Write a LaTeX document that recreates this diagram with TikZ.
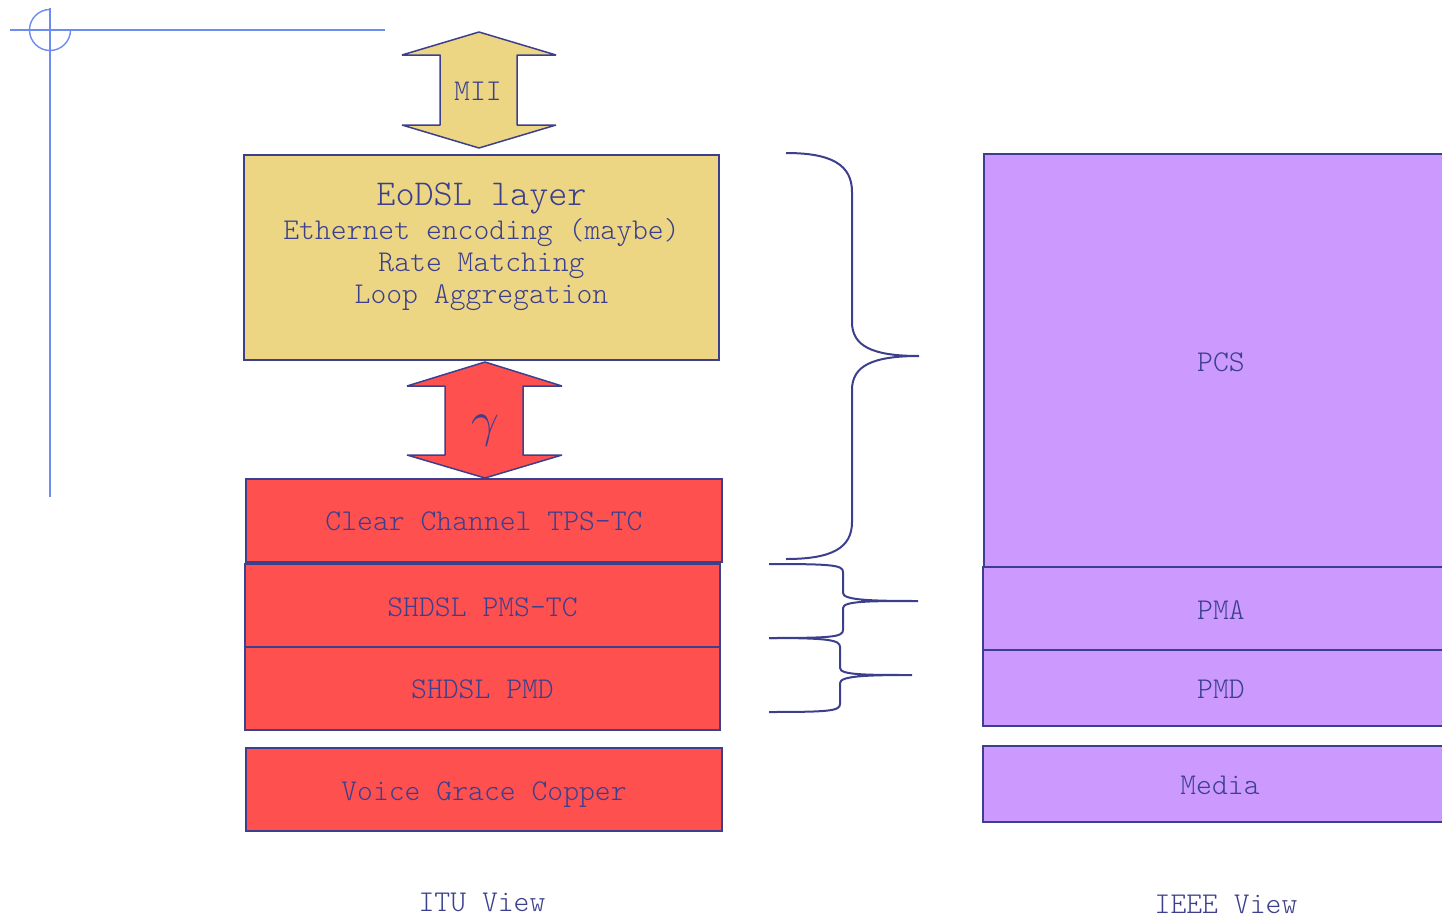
\documentclass[tikz,border=0pt]{standalone}
\usepackage{fontspec}
\setmainfont{Latin Modern Mono Light}
\definecolor{ink}{RGB}{60,64,140}
\definecolor{guide}{RGB}{110,140,240}
\definecolor{sand}{RGB}{236,214,132}
\definecolor{coral}{RGB}{255,80,80}
\definecolor{lilac}{RGB}{204,153,255}
\tikzset{
  layer/.style={draw=ink, line width=0.75pt, inner sep=0pt, rectangle},
  txt/.style={text=ink, inner sep=0pt, anchor=base, font=\fontsize{15.1}{18}\selectfont},
  title/.style={txt, font=\fontsize{18.2}{22}\selectfont},
  arrowshape/.style={draw=ink, line width=0.75pt, line join=bevel},
  brace/.style={draw=ink, line width=1pt},
  guideline/.style={draw=guide, line width=0.7pt}
}
\begin{document}
\begin{tikzpicture}[x=0.5pt,y=-0.5pt]
\useasboundingbox (0,0) rectangle (1442,916);
\clip (0,0) rectangle (1442,916);

% registration mark
\draw[guideline] (10,30) -- (385,30);
\draw[guideline] (50,8) -- (50,497);
\draw[guideline] (50,9.5) arc[start angle=90, end angle=360, radius=10.25pt];

% MII interface arrow
\draw[arrowshape, fill=sand] (479,32) -- (556,55) -- (517,55) -- (517,125) -- (556,125)
  -- (479,148) -- (402,125) -- (440,125) -- (440,55) -- (402,55) -- cycle;
\node[txt] (mii) at (478,100) {MII};

% ITU stack
\node[layer, fill=sand, minimum width=237.5pt, minimum height=102.5pt] (eodsl) at (481.5,257.5) {};
\node[title] (eodslt) at (481.5,205) {EoDSL layer};
\node[txt] (enc) at (481.5,239.3) {Ethernet encoding (maybe)};
\node[txt] (rate) at (481.5,271) {Rate Matching};
\node[txt] (loop) at (481.5,303.3) {Loop Aggregation};

% gamma interface arrow
\draw[arrowshape, fill=coral] (485,362) -- (562,386) -- (523,386) -- (523,455) -- (562,455)
  -- (485,478) -- (407,455) -- (445,455) -- (445,386) -- (407,386) -- cycle;
\node[text=ink, inner sep=0pt, anchor=base, font=\fontsize{24}{28}\selectfont] (gamma) at (485,436) {$\gamma$};

\node[layer, fill=coral, minimum width=238pt, minimum height=41.5pt] (clear) at (484,520.5) {};
\node[txt] at (484,530) {Clear Channel TPS-TC};
\node[layer, fill=coral, minimum width=237.5pt, minimum height=41.5pt] (pmstc) at (482.5,605.5) {};
\node[txt] at (482.5,616) {SHDSL PMS-TC};
\node[layer, fill=coral, minimum width=237.5pt, minimum height=41.5pt] (ituPmd) at (482.5,688.5) {};
\node[txt] at (482.5,698) {SHDSL PMD};
\node[layer, fill=coral, minimum width=238pt, minimum height=41.5pt] (copper) at (484,789.5) {};
\node[txt] at (484,800) {Voice Grace Copper};
\node[txt] (itu) at (482,911) {ITU View};

% IEEE stack
\node[layer, fill=lilac, minimum width=238pt, minimum height=206.5pt] (pcs) at (1222,360.5) {};
\node[txt] at (1221,371) {PCS};
\node[layer, fill=lilac, minimum width=238.5pt, minimum height=41.5pt] (pma) at (1221.5,608.5) {};
\node[txt] at (1221,619) {PMA};
\node[layer, fill=lilac, minimum width=238.5pt, minimum height=38pt] (ieeePmd) at (1221.5,688) {};
\node[txt] at (1221,698) {PMD};
\node[layer, fill=lilac, minimum width=238.5pt, minimum height=38pt] (media) at (1221.5,784) {};
\node[txt] at (1220,794) {Media};
\node[txt] (ieee) at (1226,913) {IEEE View};

% braces mapping ITU layers onto IEEE layers
\draw[brace] (786,153) .. controls (832,153) and (852,165) .. (852,192) -- (852,322)
  .. controls (852,346) and (872,356) .. (919,356)
  .. controls (872,356) and (852,366) .. (852,390) -- (852,522)
  .. controls (852,548) and (832,559) .. (786,559);
\draw[brace] (769,564) .. controls (832,564) and (843,565) .. (843,572) -- (843,593)
  .. controls (843,600) and (870,601) .. (918,601)
  .. controls (870,601) and (843,601) .. (843,608) -- (843,630)
  .. controls (843,637) and (832,638) .. (769,638);
\draw[brace] (769,638) .. controls (829,638) and (840,640) .. (840,647) -- (840,668)
  .. controls (840,675) and (866,675) .. (912,675)
  .. controls (866,675) and (840,676) .. (840,683) -- (840,704)
  .. controls (840,711) and (829,712) .. (769,712);
\end{tikzpicture}
\end{document}
